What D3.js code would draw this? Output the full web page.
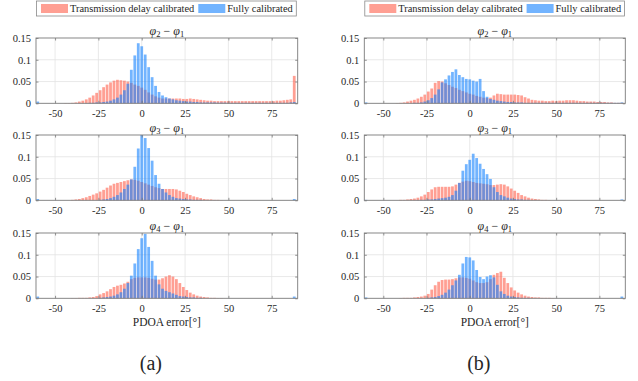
<!DOCTYPE html>
<html><head><meta charset="utf-8">
<script src="https://cdn.jsdelivr.net/npm/d3@7/dist/d3.min.js"></script>
<style>body{margin:0;background:#fff}svg{display:block}
svg text{font-family:"Liberation Serif",Tinos,"Times New Roman",Times,"DejaVu Serif",serif !important;fill:#262626}</style>
</head><body><svg id="chart" width="638" height="381"></svg>
<script>
// bin centers (degrees), 2° bins
const binCenters = [-60,-58,-56,-54,-52,-50,-48,-46,-44,-42,-40,-38,-36,-34,-32,-30,-28,-26,-24,-22,-20,-18,-16,-14,-12,-10,-8,-6,-4,-2,0,2,4,6,8,10,12,14,16,18,20,22,24,26,28,30,32,34,36,38,40,42,44,46,48,50,52,54,56,58,60,62,64,66,68,70,72,74,76,78,80,82,84,86,88];
const xTicks = [-50,-25,0,25,50,75];
const yTicks = [0,0.05,0.1,0.15];
const yTickLabels = ["0","0.05","0.1","0.15"];
const seriesNames = ["Transmission delay calibrated","Fully calibrated"];
const panelTitles = [["2","1"],["3","1"],["4","1"]];
const subLabels = ["(a)","(b)"];
const xLabel = "PDOA error[°]";

// (a) transmission delay calibrated
const redA1 = [0,0,0,0,0,0,0,0,0.0005,0.0005, 0.001,0.002,0.004,0.006,0.009,0.013,0.018,0.024,0.030,0.037, 0.043,0.048,0.052,0.054,0.053,0.052,0.050,0.047,0.043,0.040, 0.036,0.031,0.025,0.020,0.016,0.013,0.011,0.011,0.011,0.011, 0.011,0.011,0.010,0.010,0.011,0.010,0.009,0.008,0.007,0.006, 0.006,0.005,0.005,0.005,0.005,0.005,0.005,0.005,0.005,0.005, 0.005,0.005,0.005,0.005,0.005,0.005,0.005,0.005,0.005,0.006, 0.006,0.007,0.008,0.009,0.063];
const blueA1 = [0.004,0,0,0,0,0,0,0,0,0, 0,0,0,0,0.0005,0.001,0.001,0.002,0.002,0.003, 0.004,0.006,0.009,0.013,0.020,0.030,0.045,0.077,0.110,0.138, 0.131,0.112,0.083,0.060,0.040,0.026,0.018,0.014,0.011,0.009, 0.007,0.006,0.005,0.004,0.004,0.003,0.003,0.002,0.002,0.002, 0.002,0.002,0.0015,0.0015,0.0015,0.001,0.001,0.001,0.001,0.001, 0.001,0.001,0.001,0.001,0.001,0.001,0.001,0.001,0.001,0.001, 0.001,0.001,0.001,0.002,0.003];
const redA2 = [0,0,0,0,0,0,0,0,0,0, 0.001,0.002,0.003,0.005,0.007,0.010,0.013,0.016,0.020,0.024, 0.029,0.034,0.038,0.040,0.042,0.044,0.046,0.048,0.047,0.045, 0.042,0.039,0.036,0.033,0.030,0.028,0.026,0.026,0.026,0.026, 0.025,0.022,0.019,0.015,0.012,0.009,0.007,0.005,0.003,0.002, 0.002,0.001,0.001,0.0005,0,0,0,0,0,0, 0,0,0,0,0,0,0,0,0,0, 0,0,0,0,0];
const blueA2 = [0.003,0,0,0,0,0,0,0,0,0, 0,0,0,0,0,0,0,0,0.001,0.002, 0.003,0.005,0.008,0.012,0.018,0.026,0.036,0.048,0.077,0.119, 0.150,0.143,0.120,0.091,0.058,0.038,0.026,0.018,0.012,0.008, 0.005,0.004,0.003,0.002,0.002,0.001,0.001,0.001,0,0, 0,0,0,0,0,0,0,0,0,0, 0,0,0,0,0,0,0,0,0,0, 0,0,0,0,0.003];
const redA3 = [0,0,0,0,0,0,0,0,0,0, 0.0005,0.0005,0.001,0.001,0.001,0.002,0.003,0.005,0.009,0.012, 0.016,0.021,0.026,0.029,0.031,0.034,0.038,0.044,0.047,0.048, 0.048,0.048,0.047,0.045,0.043,0.043,0.046,0.050,0.053,0.050, 0.044,0.035,0.026,0.019,0.013,0.009,0.006,0.004,0.003,0.002, 0.001,0.001,0.0005,0.0005,0,0,0,0,0,0, 0,0,0,0,0,0,0,0,0,0, 0,0,0,0,0];
const blueA3 = [0.004,0,0,0,0,0,0,0,0,0, 0,0,0,0,0,0,0,0,0.001,0.002, 0.003,0.004,0.006,0.009,0.014,0.022,0.035,0.052,0.080,0.113, 0.138,0.148,0.118,0.086,0.052,0.032,0.022,0.017,0.014,0.011, 0.008,0.005,0.004,0.003,0.002,0.002,0.001,0.001,0,0, 0,0,0,0,0,0,0,0,0,0, 0,0,0,0,0,0,0,0,0,0, 0,0,0,0,0.004];
// (b)
const redB1 = [0,0,0,0,0,0,0,0,0,0.0005, 0.001,0.002,0.004,0.006,0.008,0.011,0.015,0.020,0.027,0.034, 0.047,0.051,0.050,0.046,0.042,0.038,0.035,0.031,0.028,0.025, 0.022,0.020,0.017,0.015,0.013,0.012,0.013,0.018,0.022,0.021, 0.020,0.020,0.020,0.020,0.019,0.018,0.014,0.011,0.008,0.007, 0.006,0.006,0.005,0.005,0.006,0.005,0.006,0.006,0.007,0.007, 0.007,0.006,0.005,0.005,0.004,0.004,0.004,0.003,0.003,0.003, 0.002,0.002,0.001,0.001,0.001];
const blueB1 = [0.002,0,0,0,0,0,0,0,0,0, 0,0,0,0,0.001,0.001,0.002,0.004,0.007,0.012, 0.020,0.032,0.048,0.055,0.064,0.072,0.078,0.065,0.060,0.056, 0.055,0.052,0.050,0.056,0.028,0.015,0.010,0.008,0.006,0.005, 0.004,0.003,0.003,0.002,0.002,0.002,0.001,0.001,0.001,0.001, 0.001,0.001,0.001,0.001,0.001,0.001,0.001,0.001,0.001,0.001, 0.001,0.001,0.001,0.001,0.001,0.001,0.001,0.001,0.001,0.001, 0.001,0.001,0.001,0.001,0.002];
const redB2 = [0,0,0,0,0,0,0,0,0,0, 0.001,0.001,0.002,0.003,0.004,0.006,0.009,0.013,0.019,0.025, 0.030,0.031,0.031,0.031,0.031,0.032,0.036,0.040,0.043,0.045, 0.044,0.042,0.040,0.039,0.038,0.037,0.035,0.035,0.036,0.037, 0.036,0.032,0.027,0.022,0.017,0.012,0.009,0.006,0.004,0.003, 0.002,0.001,0.001,0.0005,0,0,0,0,0,0, 0,0,0,0,0,0,0,0,0,0, 0,0,0,0,0];
const blueB2 = [0.001,0,0,0,0,0,0,0,0,0, 0,0,0,0,0,0.0005,0.001,0.001,0.002,0.002, 0.003,0.004,0.005,0.006,0.008,0.012,0.022,0.040,0.068,0.083, 0.093,0.107,0.097,0.084,0.072,0.060,0.049,0.030,0.019,0.012, 0.009,0.006,0.004,0.003,0.002,0.002,0.001,0.001,0,0, 0,0,0,0,0,0,0,0,0,0, 0,0,0,0,0,0,0,0,0,0, 0,0,0,0,0.002];
const redB3 = [0,0,0,0,0,0,0,0,0,0, 0.0005,0.001,0.001,0.001,0.002,0.003,0.004,0.006,0.010,0.020, 0.030,0.038,0.042,0.043,0.043,0.044,0.046,0.048,0.048,0.047, 0.045,0.041,0.037,0.035,0.035,0.037,0.044,0.054,0.058,0.061, 0.047,0.035,0.025,0.018,0.013,0.009,0.006,0.004,0.003,0.002, 0.002,0.001,0.001,0.001,0.0005,0,0,0,0,0, 0,0,0,0,0,0,0,0,0,0, 0,0,0,0,0];
const blueB3 = [0.002,0,0,0,0,0,0,0,0,0, 0,0,0,0,0,0,0,0,0.001,0.002, 0.003,0.005,0.008,0.013,0.020,0.030,0.041,0.054,0.080,0.095, 0.094,0.087,0.065,0.049,0.044,0.050,0.053,0.048,0.031,0.016, 0.010,0.006,0.004,0.003,0.002,0.001,0.001,0.001,0,0, 0,0,0,0,0,0,0,0,0,0, 0,0,0,0,0,0,0,0,0,0, 0,0,0,0,0.004];

const columns = [
  {x0:36, w:261.7, rows:[[redA1,blueA1],[redA2,blueA2],[redA3,blueA3]]},
  {x0:364.3, w:261, rows:[[redB1,blueB1],[redB2,blueB2],[redB3,blueB3]]}
];
const rowTops = [38, 135, 233];
const rowH = 65.3;
const redFill = "rgb(255,95,75)", blueFill = "rgb(20,130,255)", alpha = 0.6;

const svg = d3.select("#chart");
const fs = 10.5;

columns.forEach((col, ci) => {
  const x = d3.scaleLinear().domain([-61, 90]).range([col.x0, col.x0 + col.w]);
  col.rows.forEach((series, ri) => {
    const top = rowTops[ri];
    const y = d3.scaleLinear().domain([0, 0.15]).range([top + rowH, top]);
    const g = svg.append("g");
    g.selectAll(".gx").data(xTicks).join("line")
      .attr("x1", d => x(d)).attr("x2", d => x(d)).attr("y1", top).attr("y2", top + rowH)
      .attr("stroke", "#e3e3e3").attr("stroke-width", 0.8);
    g.selectAll(".gy").data(yTicks.slice(1, 3)).join("line")
      .attr("x1", col.x0).attr("x2", col.x0 + col.w).attr("y1", d => y(d)).attr("y2", d => y(d))
      .attr("stroke", "#e3e3e3").attr("stroke-width", 0.8);
    [redFill, blueFill].forEach((fill, si) => {
      g.append("g").selectAll("rect").data(binCenters.map((c, i) => ({c, v: series[si][i]})).filter(d => d.v > 0))
        .join("rect")
        .attr("x", d => x(d.c - 1) + 0.35)
        .attr("width", d => x(d.c + 1) - x(d.c - 1) - 0.7)
        .attr("y", d => y(d.v))
        .attr("height", d => y(0) - y(d.v))
        .attr("fill", fill).attr("fill-opacity", alpha);
    });
    const bottom = top + rowH;
    const ax = g.append("g").attr("transform", `translate(0,${bottom})`)
      .call(d3.axisBottom(x).tickValues(xTicks).tickSizeInner(-2.5).tickSizeOuter(0).tickPadding(5).tickFormat(d => String(d).replace("−","-")));
    const axT = g.append("g").attr("transform", `translate(0,${top})`)
      .call(d3.axisTop(x).tickValues(xTicks).tickSizeInner(-2.5).tickSizeOuter(0).tickFormat(""));
    const ay = g.append("g").attr("transform", `translate(${col.x0},0)`)
      .call(d3.axisLeft(y).tickValues(yTicks).tickSizeInner(-2.5).tickSizeOuter(0).tickPadding(5).tickFormat((d, i) => yTickLabels[i]));
    const ayR = g.append("g").attr("transform", `translate(${col.x0 + col.w},0)`)
      .call(d3.axisRight(y).tickValues(yTicks).tickSizeInner(-2.5).tickSizeOuter(0).tickFormat(""));
    [ax, axT, ay, ayR].forEach(a => {
      a.attr("font-family", null).attr("font-size", null);
      a.select(".domain").remove();
      a.selectAll("line").attr("stroke", "#777").attr("stroke-width", 0.8);
      a.selectAll("text").attr("font-size", fs).attr("fill", "#333");
    });
    ax.selectAll("text").attr("dy", "0.82em");
    g.append("rect").attr("x", col.x0).attr("y", top).attr("width", col.w).attr("height", rowH)
      .attr("fill", "none").attr("stroke", "#7a7a7a").attr("stroke-width", 0.9);
    const t = g.append("text").attr("x", col.x0 + col.w / 2).attr("y", top - 3.5)
      .attr("text-anchor", "middle").attr("font-size", 12);
    const [a, b] = panelTitles[ri];
    t.append("tspan").attr("font-style", "italic").text("φ");
    t.append("tspan").attr("font-size", 8.5).attr("dy", 2.5).text(a);
    t.append("tspan").attr("dy", -2.5).text(" − ");
    t.append("tspan").attr("font-style", "italic").text("φ");
    t.append("tspan").attr("font-size", 8.5).attr("dy", 2.5).text(b);
  });
  svg.append("text").attr("x", col.x0 + col.w / 2).attr("y", 326).attr("text-anchor", "middle")
    .attr("font-size", 11.5).text(xLabel);
  svg.append("text").attr("x", col.x0 + col.w / 2 - 16).attr("y", 370).attr("text-anchor", "middle")
    .attr("font-size", 20).text(subLabels[ci]);
  const lg = svg.append("g");
  const box = lg.append("rect").attr("x", col.x0 + 0.5).attr("y", 1).attr("width", 257).attr("height", 15)
    .attr("fill", "#fff").attr("stroke", "#8a8a8a").attr("stroke-width", 0.8);
  let cx = col.x0 + 5;
  [redFill, blueFill].forEach((fill, si) => {
    lg.append("rect").attr("x", cx).attr("y", 4).attr("width", 27).attr("height", 9)
      .attr("fill", fill).attr("fill-opacity", alpha);
    const tx = lg.append("text").attr("x", cx + 29).attr("y", 12.3).attr("font-size", 10.4).text(seriesNames[si]);
    cx = cx + 29 + tx.node().getComputedTextLength() + 4;
  });
  box.attr("width", cx - col.x0 - 1);
});
</script></body></html>
